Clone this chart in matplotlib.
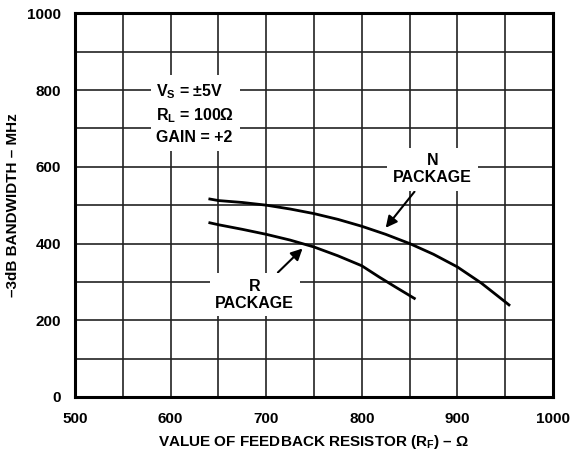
import matplotlib.pyplot as plt
import numpy as np

plt.rcParams['font.family'] = ['Liberation Sans', 'DejaVu Sans']
plt.rcParams['font.weight'] = 'bold'
plt.rcParams['axes.labelweight'] = 'bold'
plt.rcParams['mathtext.fontset'] = 'custom'
plt.rcParams['mathtext.rm'] = 'Liberation Sans:bold'
plt.rcParams['mathtext.default'] = 'rm'

# N package curve
n_x = [641, 650, 675, 700, 725, 750, 775, 800, 825, 850, 875, 900, 925, 950, 954]
n_y = [516, 512, 507, 500, 490, 478, 463, 445, 424, 400, 372, 339, 297, 248, 240]

# R package curve
r_x = [641, 650, 675, 700, 725, 750, 775, 800, 818, 835, 855]
r_y = [454, 449, 437, 424, 409, 391, 368, 342, 313, 287, 257]

x_ticks = [500, 600, 700, 800, 900, 1000]
y_ticks = [0, 200, 400, 600, 800, 1000]

fig = plt.figure(figsize=(5.73, 4.54), dpi=100)
ax = fig.add_axes([0.131, 0.1256, 0.834, 0.845])

ax.set_xlim(500, 1000)
ax.set_ylim(0, 1000)
ax.set_xticks(x_ticks)
ax.set_yticks(y_ticks)
ax.set_xticks(np.arange(500, 1001, 50), minor=True)
ax.set_yticks(np.arange(0, 1001, 100), minor=True)
ax.grid(True, which='both', color='#222222', linewidth=1.2)
ax.tick_params(which='both', length=0, labelsize=11)
ax.tick_params(axis='x', pad=11)
ax.tick_params(axis='y', pad=10)
for s in ax.spines.values():
    s.set_linewidth(2.2)
    s.set_zorder(5)

ax.plot(n_x, n_y, color='black', linewidth=2, zorder=4)
ax.plot(r_x, r_y, color='black', linewidth=2, zorder=4)

box = dict(facecolor='white', edgecolor='none', pad=4)
ax.text(585, 820, 'V$_S$ = ±5V\nR$_L$ = 100Ω\nGAIN = +2', fontsize=11.5,
        ha='left', va='top', linespacing=1.4, bbox=box, zorder=6)
arrow = dict(arrowstyle='-|>', color='black', lw=1.5, mutation_scale=17,
             shrinkA=1, shrinkB=0)
ax.annotate('N\nPACKAGE', xy=(825, 441), xytext=(874, 594),
            ha='center', va='center', fontsize=11.5, linespacing=1.15, bbox=box,
            arrowprops=arrow, zorder=6)
ax.annotate('R\nPACKAGE', xy=(738, 387), xytext=(688, 266),
            ha='center', va='center', fontsize=11.5, linespacing=1.15, bbox=box,
            arrowprops=arrow, zorder=6)

ax.set_ylabel('–3dB BANDWIDTH – MHz', fontsize=11, labelpad=5)
ax.set_xlabel('VALUE OF FEEDBACK RESISTOR (R$_F$) – Ω', fontsize=11, labelpad=5)

fig.savefig('out.png', dpi=100)
